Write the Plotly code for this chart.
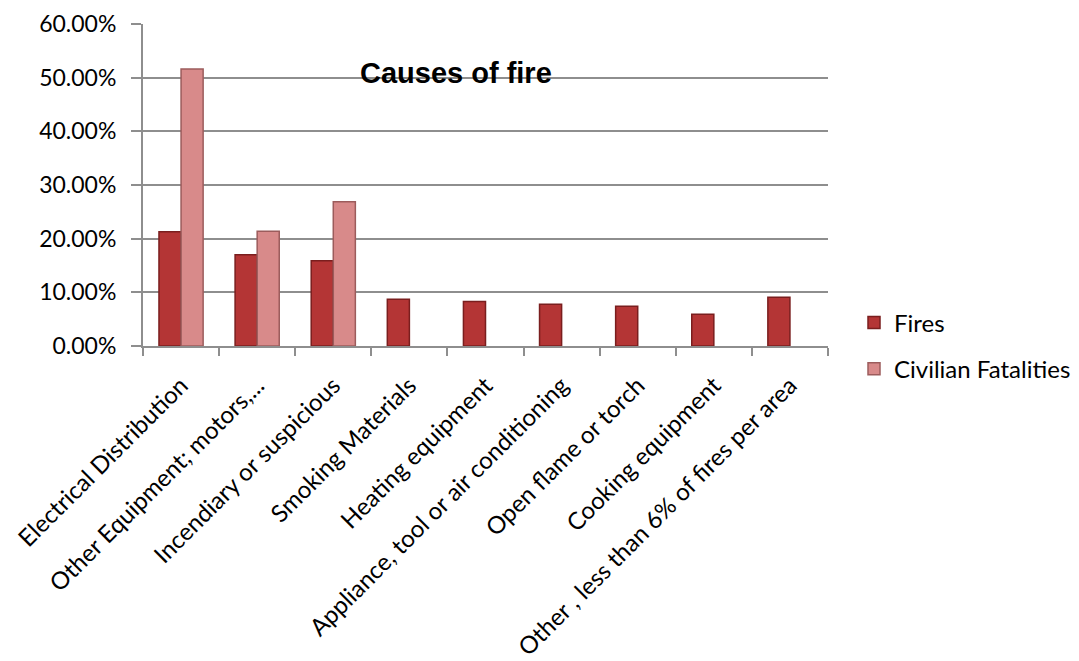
import plotly.graph_objects as go

categories = [
    "Electrical Distribution",
    "Other Equipment; motors,...",
    "Incendiary or suspicious",
    "Smoking Materials",
    "Heating equipment",
    "Appliance, tool or air conditioning",
    "Open flame or torch",
    "Cooking equipment",
    "Other , less than 6% of fires per area",
]
fires = [0.213, 0.170, 0.159, 0.087, 0.083, 0.078, 0.074, 0.059, 0.091]
fatalities = [0.516, 0.214, 0.269, None, None, None, None, None, None]
y_ticks = [0, 0.1, 0.2, 0.3, 0.4, 0.5, 0.6]

label_font = "Lato"

fig = go.Figure()
fig.add_trace(go.Bar(
    x=categories, y=fires, name="Fires", legendgroup="a",
    marker=dict(color="#B43535", line=dict(color="#7A1E1E", width=1.5)),
))
fig.add_trace(go.Bar(
    x=categories, y=fatalities, name="Civilian Fatalities", legendgroup="b",
    marker=dict(color="#D88A8A", line=dict(color="#9C5C5C", width=1.5)),
))

fig.add_annotation(
    x=(456 - 143) / 685, y=0.508, xref="paper", yref="y",
    text="<b>Causes of fire</b>", showarrow=False,
    font=dict(family="Liberation Sans, Arial", size=29, color="black"),
    xanchor="center", yanchor="middle",
)

fig.update_layout(
    width=1079, height=661,
    margin=dict(l=143, r=251, t=24, b=315),
    paper_bgcolor="white", plot_bgcolor="white",
    barmode="group", bargap=0.42, bargroupgap=0,
    showlegend=True,
    legend=dict(
        xref="container", x=854 / 1079, y=0.0, xanchor="left", yanchor="middle",
        font=dict(family=label_font, size=24, color="black"),
        tracegroupgap=12, traceorder="grouped",
        itemwidth=30,
    ),
    xaxis=dict(
        type="category",
        automargin=False,
        tickangle=-45,
        tickfont=dict(family=label_font, size=24, color="black"),
        ticklabelstandoff=14,
        showline=True, linecolor="#8E8E8E", linewidth=2,
        ticks="outside", tickson="boundaries", ticklen=8, tickcolor="#8E8E8E", tickwidth=2,
        showgrid=False,
    ),
    yaxis=dict(
        range=[0, 0.6],
        automargin=False,
        tickvals=y_ticks, tickformat=".2%",
        tickfont=dict(family=label_font, size=23, color="black"),
        ticklabelstandoff=10,
        showline=True, linecolor="#8E8E8E", linewidth=2,
        ticks="outside", ticklen=10, tickcolor="#8E8E8E", tickwidth=2,
        showgrid=True, gridcolor="#8E8E8E", gridwidth=1.5,
        zeroline=False,
    ),
)

fig.write_html("out.html")
